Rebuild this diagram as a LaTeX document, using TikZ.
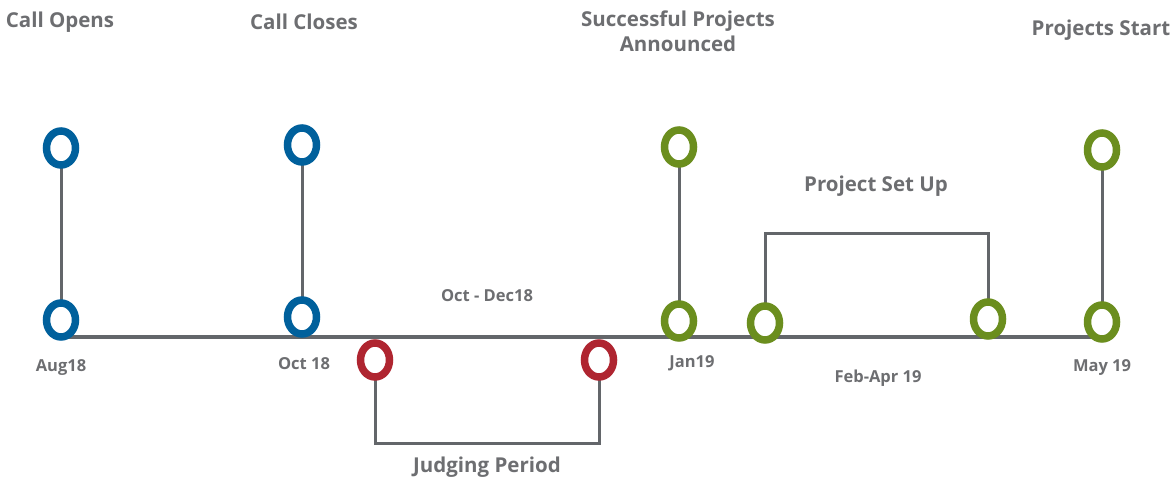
\documentclass[tikz,border=0pt]{standalone}
\usepackage{fontspec}
\setmainfont{Open Sans}
\usepackage{tikz}
\usepackage{xcolor}
\usetikzlibrary{shapes.geometric,backgrounds}
\definecolor{RingBlue}{HTML}{00609C}
\definecolor{RingRed}{HTML}{AF2530}
\definecolor{RingGreen}{HTML}{6B8E1E}
\definecolor{LineGray}{HTML}{63666A}
\definecolor{TextGray}{HTML}{6D6E71}
\tikzset{
  tlring/.style={ellipse, draw, fill=white, line width=7.5pt, minimum width=29pt, minimum height=34pt, inner sep=0pt},
  tlblue/.style={tlring, draw=RingBlue},
  tlred/.style={tlring, draw=RingRed},
  tlgreen/.style={tlring, draw=RingGreen},
  tlstem/.style={draw=LineGray, line width=3pt},
  tlaxis/.style={draw=LineGray, line width=4.5pt},
  tltitle/.style={text=TextGray, align=center, font=\bfseries\fontsize{20.5}{25}\selectfont},
  tldate/.style={text=TextGray, font=\bfseries\fontsize{16.5}{19}\selectfont}
}

\begin{document}
\begin{tikzpicture}[x=1pt,y=1pt]
  \useasboundingbox (0,0) rectangle (1174,482);
  % milestones above the axis
  \node[tlblue] (opentop) at (61,334) {};
  \node[tlblue] (openbot) at (61,162) {};
  \node[tlblue] (closetop) at (302,337) {};
  \node[tlblue] (closebot) at (302,165) {};
  \node[tlgreen] (newstop) at (679,335) {};
  \node[tlgreen] (newsbot) at (679,161) {};
  \node[tlgreen] (starttop) at (1102,332) {};
  \node[tlgreen] (startbot) at (1102,160) {};
  % periods
  \node[tlred] (judge1) at (375,122) {};
  \node[tlred] (judge2) at (599,122) {};
  \node[tlgreen] (setup1) at (765,159) {};
  \node[tlgreen] (setup2) at (988,163) {};
  \coordinate (axisL) at (61,145);
  \coordinate (axisR) at (1102,145);
  \coordinate (jbar) at (487,39);
  \coordinate (sbar) at (876,248);
  \begin{scope}[on background layer]
    \draw[tlaxis] (axisL) -- (axisR);
    \foreach \a/\b in {opentop/openbot,closetop/closebot,newstop/newsbot,starttop/startbot} {
      \draw[tlstem] (\a.center) -- (\b.center);
    }
    \draw[tlstem] (judge1.center) |- (jbar) -| (judge2.center);
    \draw[tlstem] (setup1.center) |- (sbar) -| (setup2.center);
  \end{scope}
  % labels
  \node[tltitle] (topen) at (60,460) {Call Opens};
  \node[tltitle] (tclose) at (304,460) {Call Closes};
  \node[tltitle] (tnews) at (678,451) {Successful Projects\\Announced};
  \node[tltitle] (tstart) at (1101,452) {Projects Start};
  \node[tltitle] (tsetup) at (876,296) {Project Set Up};
  \node[tltitle] (tjudge) at (487,15) {Judging Period};
  \node[tldate] (dopen) at (61,114) {Aug18};
  \node[tldate] (dclose) at (304,118) {Oct 18};
  \node[tldate] (djudge) at (487,186) {Oct - Dec18};
  \node[tldate] (dnews) at (692,119) {Jan19};
  \node[tldate] (dsetup) at (878,104) {Feb-Apr 19};
  \node[tldate] (dstart) at (1102,114) {May 19};
\end{tikzpicture}
\end{document}
